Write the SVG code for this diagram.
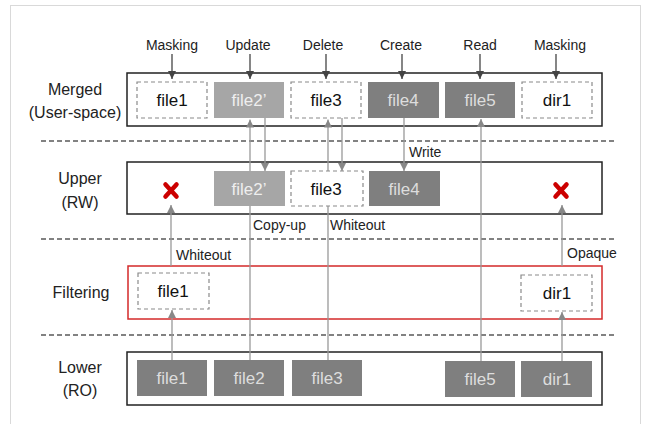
<svg xmlns="http://www.w3.org/2000/svg" width="645" height="424" viewBox="0 0 645 424">
<style>
text{font-family:"Liberation Sans",Arial,sans-serif;}
.lbl{font-size:14px;fill:#222;}
.layer{font-size:16px;fill:#222;text-anchor:middle;}
.ftxt{font-size:17px;text-anchor:middle;}
.layerbox{fill:#fff;stroke:#222;stroke-width:1.5;}
.dash{fill:#fff;stroke:#8a8a8a;stroke-width:1.2;stroke-dasharray:4 3;}
.dark{fill:#7f7f7f;}
.light{fill:#a6a6a6;}
.sep{stroke:#5a5a5a;stroke-width:1.5;stroke-dasharray:5 3;fill:none;}
.top{stroke:#444;stroke-width:1.3;fill:none;marker-end:url(#ah1);}
.cona{stroke:#999;stroke-width:1.3;fill:none;marker-end:url(#ah2);}
.x{stroke:#cc0000;stroke-width:4.5;stroke-linecap:round;}
</style>
<defs>
<marker id="ah1" viewBox="0 0 10 10" refX="10" refY="5" markerWidth="8" markerHeight="8" markerUnits="userSpaceOnUse" orient="auto"><path d="M0,0 L10,5 L0,10 z" fill="#444"/></marker>
<marker id="ah2" viewBox="0 0 10 10" refX="10" refY="5" markerWidth="8" markerHeight="8" markerUnits="userSpaceOnUse" orient="auto"><path d="M0,0 L10,5 L0,10 z" fill="#888"/></marker>
</defs>
<rect width="645" height="424" fill="#fff"/>
<rect x="10.5" y="5.5" width="630" height="430" fill="none" stroke="#d9d9d9" stroke-width="1"/>

<g id="separators">
<line class="sep" x1="41" y1="141" x2="617" y2="141"/>
<line class="sep" x1="41" y1="239" x2="617" y2="239"/>
<line class="sep" x1="41" y1="335" x2="617" y2="335"/>
</g>

<g id="layer-labels">
<text class="layer" x="75" y="95">Merged</text>
<text class="layer" x="75" y="118">(User-space)</text>
<text class="layer" x="80" y="184">Upper</text>
<text class="layer" x="80" y="208">(RW)</text>
<text class="layer" x="81" y="298">Filtering</text>
<text class="layer" x="80" y="373">Lower</text>
<text class="layer" x="80" y="396">(RO)</text>
</g>

<g id="merged">
<rect class="layerbox" x="127" y="73" width="475" height="53"/>
</g>
<g id="upper">
<rect class="layerbox" x="127" y="162" width="475" height="52"/>
</g>
<g id="filtering">
<rect x="128" y="266" width="474" height="53" fill="#fff" stroke="#d42a2a" stroke-width="1.5"/>
</g>
<g id="lower">
<rect class="layerbox" x="127" y="352" width="475" height="53"/>
</g>

<g id="connectors">
<line class="top" x1="172" y1="54" x2="172" y2="79"/>
<line class="top" x1="250" y1="54" x2="250" y2="79"/>
<line class="top" x1="326" y1="54" x2="326" y2="79"/>
<line class="top" x1="402" y1="54" x2="402" y2="79"/>
<line class="top" x1="480" y1="54" x2="480" y2="79"/>
<line class="top" x1="556" y1="54" x2="556" y2="79"/>
<line class="cona" x1="250" y1="360" x2="250" y2="119.5"/>
<line class="cona" x1="328" y1="360" x2="328" y2="119.5"/>
<line class="cona" x1="481" y1="361" x2="481" y2="119"/>
<line class="cona" x1="265" y1="118" x2="265" y2="171"/>
<line class="cona" x1="342" y1="118" x2="342" y2="171"/>
<line class="cona" x1="404" y1="118" x2="404" y2="171"/>
<line class="cona" x1="171" y1="266" x2="171" y2="205"/>
<line class="cona" x1="562" y1="266" x2="562" y2="205"/>
<line class="cona" x1="172" y1="360" x2="172" y2="310"/>
<line class="cona" x1="562" y1="361" x2="562" y2="312"/>
</g>

<g id="top-labels">
<text class="lbl" x="172" y="50" text-anchor="middle">Masking</text>
<text class="lbl" x="248" y="50" text-anchor="middle">Update</text>
<text class="lbl" x="323" y="50" text-anchor="middle">Delete</text>
<text class="lbl" x="401" y="50" text-anchor="middle">Create</text>
<text class="lbl" x="480" y="50" text-anchor="middle">Read</text>
<text class="lbl" x="560" y="50" text-anchor="middle">Masking</text>
<text class="lbl" x="409" y="157">Write</text>
<text class="lbl" x="253" y="230">Copy-up</text>
<text class="lbl" x="330" y="230">Whiteout</text>
<text class="lbl" x="176" y="260">Whiteout</text>
<text class="lbl" x="567" y="258">Opaque</text>
</g>

<g id="m-file1"><rect class="dash" x="137" y="82" width="70" height="36"/><text class="ftxt" x="172" y="106" fill="#111">file1</text></g>
<g id="m-file2p"><rect class="light" x="214" y="82" width="70" height="36"/><text class="ftxt" x="249" y="106" fill="#eee">file2’</text></g>
<g id="m-file3"><rect class="dash" x="291" y="82" width="70" height="36"/><text class="ftxt" x="326" y="106" fill="#111">file3</text></g>
<g id="m-file4"><rect class="dark" x="368" y="82" width="71" height="36"/><text class="ftxt" x="403" y="106" fill="#ddd">file4</text></g>
<g id="m-file5"><rect class="dark" x="445" y="82" width="70" height="36"/><text class="ftxt" x="480" y="106" fill="#ddd">file5</text></g>
<g id="m-dir1"><rect class="dash" x="522" y="82" width="70" height="36"/><text class="ftxt" x="557" y="106" fill="#111">dir1</text></g>

<g id="u-x1"><line class="x" x1="165.5" y1="184.5" x2="176.5" y2="196.5"/><line class="x" x1="176.5" y1="184.5" x2="165.5" y2="196.5"/></g>
<g id="u-file2p"><rect class="light" x="214" y="171" width="71" height="35"/><text class="ftxt" x="249" y="194.5" fill="#eee">file2’</text></g>
<g id="u-file3"><rect class="dash" x="291" y="171" width="72" height="35"/><text class="ftxt" x="326" y="194.5" fill="#111">file3</text></g>
<g id="u-file4"><rect class="dark" x="369" y="171" width="71" height="35"/><text class="ftxt" x="404" y="194.5" fill="#ddd">file4</text></g>
<g id="u-x2"><line class="x" x1="555.5" y1="184.5" x2="566.5" y2="196.5"/><line class="x" x1="566.5" y1="184.5" x2="555.5" y2="196.5"/></g>

<g id="f-file1"><rect class="dash" x="138" y="273" width="71" height="36"/><text class="ftxt" x="173" y="297" fill="#111">file1</text></g>
<g id="f-dir1"><rect class="dash" x="521" y="275" width="71" height="36"/><text class="ftxt" x="557" y="299" fill="#111">dir1</text></g>

<g id="l-file1"><rect class="dark" x="137" y="360" width="70" height="36"/><text class="ftxt" x="172" y="384" fill="#ddd">file1</text></g>
<g id="l-file2"><rect class="dark" x="214" y="360" width="70" height="36"/><text class="ftxt" x="249" y="384" fill="#ddd">file2</text></g>
<g id="l-file3"><rect class="dark" x="292" y="360" width="70" height="36"/><text class="ftxt" x="327" y="384" fill="#ddd">file3</text></g>
<g id="l-file5"><rect class="dark" x="445" y="361" width="70" height="36"/><text class="ftxt" x="480" y="385" fill="#ddd">file5</text></g>
<g id="l-dir1"><rect class="dark" x="521" y="361" width="71" height="36"/><text class="ftxt" x="557" y="385" fill="#ddd">dir1</text></g>
</svg>
